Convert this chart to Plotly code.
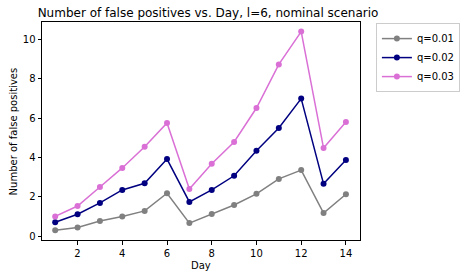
import plotly.graph_objects as go

days = list(range(1, 15))
q001 = [0.30, 0.44, 0.77, 1.00, 1.28, 2.18, 0.66, 1.12, 1.58, 2.15, 2.91, 3.36, 1.17, 2.13]
q002 = [0.70, 1.11, 1.69, 2.35, 2.69, 3.92, 1.74, 2.35, 3.07, 4.34, 5.50, 7.00, 2.66, 3.87]
q003 = [1.00, 1.53, 2.50, 3.47, 4.55, 5.76, 2.40, 3.68, 4.79, 6.52, 8.74, 10.41, 4.48, 5.81]
names = ["q=0.01", "q=0.02", "q=0.03"]
colors = ["gray", "navy", "orchid"]

fig = go.Figure()
for name, vals, c in zip(names, [q001, q002, q003], colors):
    fig.add_trace(go.Scatter(x=days, y=vals, name=name, mode="lines+markers",
                             line=dict(color=c, width=1.5),
                             marker=dict(color=c, size=6)))

axis_common = dict(showline=True, linecolor="black", linewidth=1, mirror=True,
                   ticks="outside", ticklen=3.5, tickcolor="black", showgrid=False,
                   zeroline=False, tickfont=dict(size=10, color="black"),
                   automargin=False)
fig.update_layout(
    width=472, height=278,
    margin=dict(l=42, r=96, t=22, b=38),
    plot_bgcolor="white", paper_bgcolor="white",
    font=dict(family="DejaVu Sans", color="black", size=10),
    title=dict(text="Number of false positives vs. Day, l=6, nominal scenario",
               x=(42 + 166) / 472, xanchor="center", y=0.955, yanchor="middle",
               font=dict(size=12)),
    xaxis=dict(range=[0.41, 14.63], tickvals=[2, 4, 6, 8, 10, 12, 14], **axis_common),
    yaxis=dict(range=[-0.2, 10.9], tickvals=[0, 2, 4, 6, 8, 10], **axis_common),
    legend=dict(x=1.05, y=0.995, xanchor="left", yanchor="top",
                bordercolor="#cccccc", borderwidth=1, font=dict(size=10),
                tracegroupgap=0, itemwidth=30),
    showlegend=True,
)
fig.add_annotation(text="Day", xref="paper", yref="paper", x=0.5, y=-0.115,
                   xanchor="center", yanchor="middle", showarrow=False,
                   font=dict(size=10))
fig.add_annotation(text="Number of false positives", xref="paper", yref="paper",
                   x=-0.09, y=0.5, xanchor="center", yanchor="middle",
                   textangle=-90, showarrow=False, font=dict(size=10))
fig.write_html("out.html", config={"displayModeBar": False},
               post_script="document.body.style.margin='0';")
